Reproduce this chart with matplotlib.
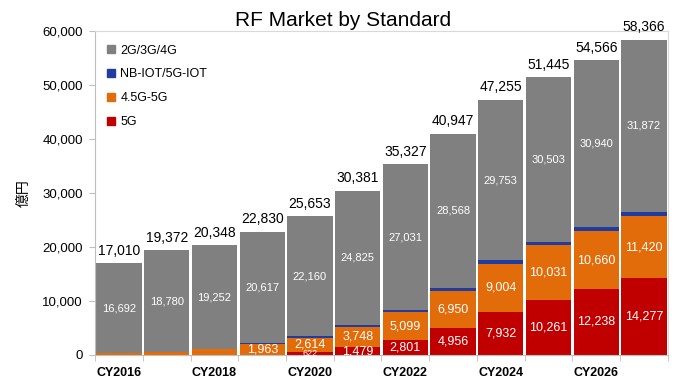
import matplotlib
matplotlib.use("Agg")
import matplotlib.pyplot as plt
from matplotlib.lines import Line2D
from matplotlib.ticker import FuncFormatter

plt.rcParams['font.family'] = ['Liberation Sans', 'Noto Sans CJK JP', 'DejaVu Sans']

years = ["CY2016", "CY2017", "CY2018", "CY2019", "CY2020", "CY2021",
         "CY2022", "CY2023", "CY2024", "CY2025", "CY2026", "CY2027"]
g5 = [0, 0, 0, 0, 622, 1479, 2801, 4956, 7932, 10261, 12238, 14277]
g45 = [318, 592, 1096, 1963, 2614, 3748, 5099, 6950, 9004, 10031, 10660, 11420]
iot = [0, 0, 0, 250, 257, 329, 396, 473, 566, 650, 728, 797]
g234 = [16692, 18780, 19252, 20617, 22160, 24825, 27031, 28568, 29753, 30503, 30940, 31872]
totals = [17010, 19372, 20348, 22830, 25653, 30381, 35327, 40947, 47255, 51445, 54566, 58366]

c_grey = "#808080"
c_blue = "#1f3c9e"
c_orange = "#e36c0a"
c_red = "#c00000"

fig = plt.figure(figsize=(7, 3.87), dpi=100)
ax = fig.add_axes([0.136, 0.0827, 0.818, 0.8373])

x = list(range(len(years)))
w = 0.95
b1 = g5
b2 = [a + b for a, b in zip(b1, g45)]
b3 = [a + b for a, b in zip(b2, iot)]
ax.bar(x, g5, w, color=c_red, linewidth=0)
ax.bar(x, g45, w, bottom=b1, color=c_orange, linewidth=0)
ax.bar(x, iot, w, bottom=b2, color=c_blue, linewidth=0)
ax.bar(x, g234, w, bottom=b3, color=c_grey, linewidth=0)

for i in x:
    ax.text(i, b3[i] + g234[i] / 2, f"{g234[i]:,}", ha='center', va='center',
            color='white', fontsize=8)
    if g45[i] >= 1500:
        ax.text(i, b1[i] + g45[i] / 2, f"{g45[i]:,}", ha='center', va='center',
                color='white', fontsize=9)
    if g5[i] > 0:
        ax.text(i, g5[i] / 2, f"{g5[i]:,}", ha='center', va='center',
                color='white', fontsize=9 if g5[i] > 1000 else 6.5)
    ax.annotate(f"{totals[i]:,}", (i, totals[i]), xytext=(0, 4),
                textcoords='offset points', ha='center', va='bottom',
                fontsize=10, color='black', annotation_clip=False)

ax.set_xlim(-0.5, len(years) - 0.5)
ax.set_ylim(0, 60000)
ax.set_yticks(range(0, 60001, 10000))
ax.yaxis.set_major_formatter(FuncFormatter(lambda v, p: f"{int(v):,}"))
ax.tick_params(axis='y', labelsize=9.5, length=4, color='#bfbfbf', pad=5)

ax.set_xticks(x[::2])
ax.set_xticklabels(years[::2], fontsize=9, fontweight='bold')
ax.set_xticks([i - 0.5 for i in range(len(years) + 1)], minor=True)
ax.tick_params(axis='x', which='major', length=0, pad=9)
ax.tick_params(axis='x', which='minor', length=4, color='#bfbfbf')

for s in ax.spines.values():
    s.set_color('#d9d9d9')
    s.set_linewidth(0.8)
ax.spines['left'].set_color('#bfbfbf')
ax.spines['bottom'].set_color('#bfbfbf')

ax.set_ylabel("億円", fontsize=10, labelpad=8)

handles = [Line2D([], [], marker='s', linestyle='none', color=c, markersize=6)
           for c in [c_grey, c_blue, c_orange, c_red]]
labels = ["2G/3G/4G", "NB-IOT/5G-IOT", "4.5G-5G", "5G"]
ax.legend(handles, labels, loc='upper left', bbox_to_anchor=(0.0, 0.985),
          frameon=False, fontsize=9, handletextpad=0.1, labelspacing=0.95,
          handlelength=1.2, borderaxespad=0.3)

fig.text(0.49, 0.948, "RF Market by Standard", ha='center', va='center', fontsize=15)

fig.savefig("out.png", dpi=100)
